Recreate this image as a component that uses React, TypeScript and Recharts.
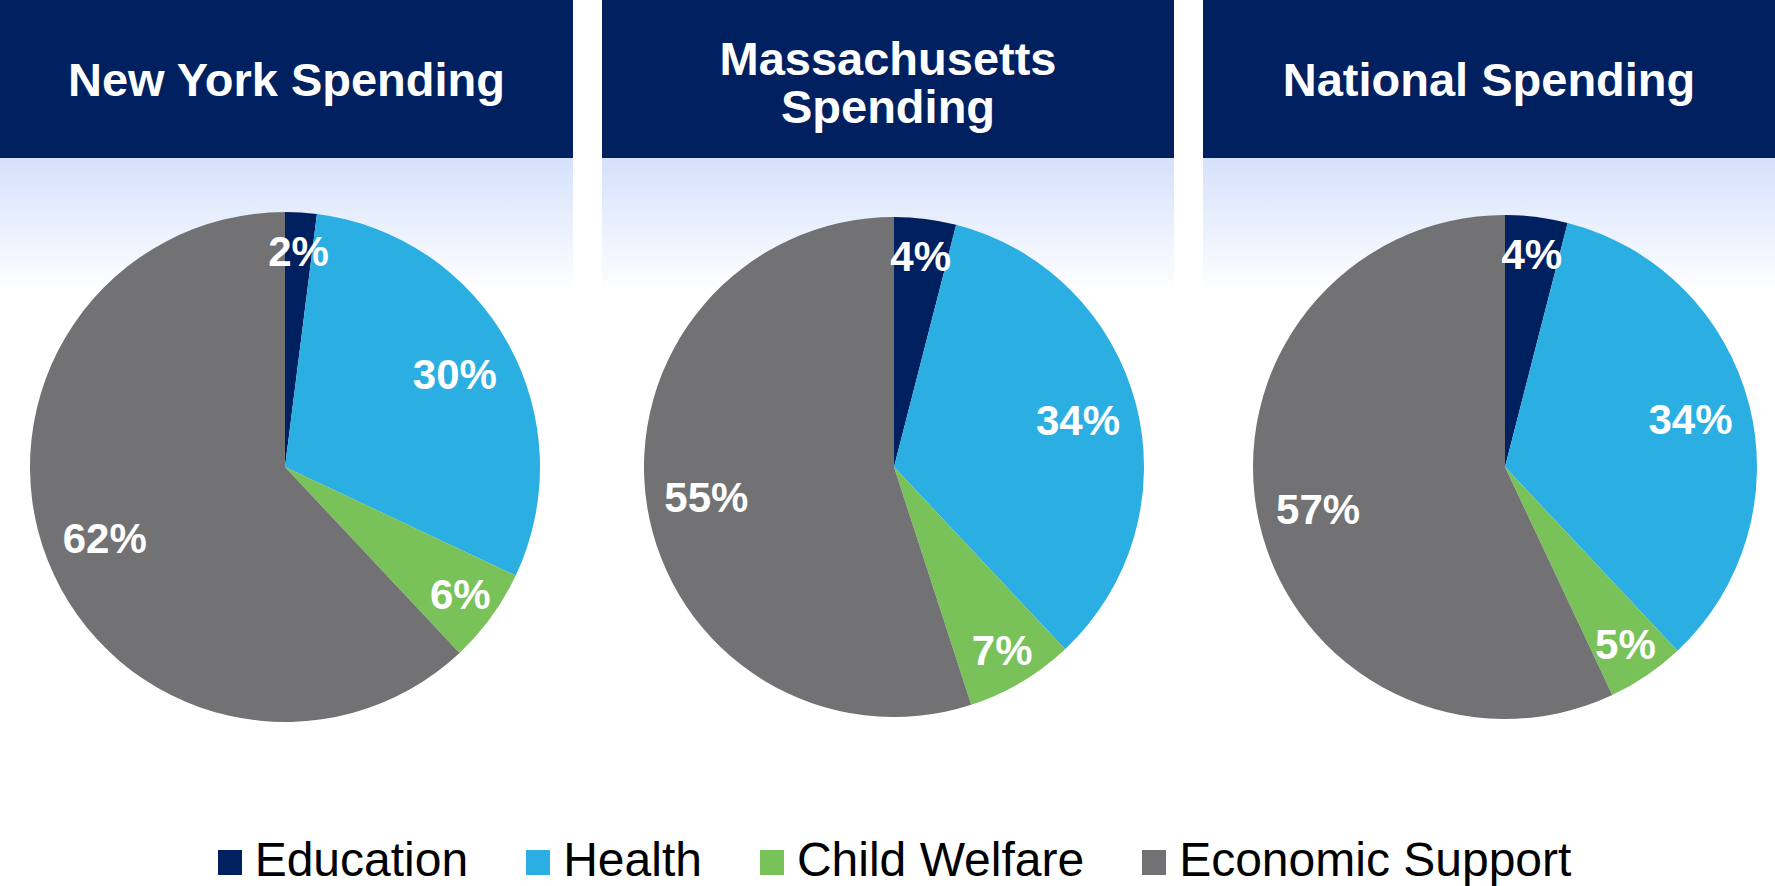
import { PieChart, Pie, Cell, Legend } from "recharts";

const categories = ["Education", "Health", "Child Welfare", "Economic Support"];
const colors = ["#00205f", "#2bafe2", "#79c25a", "#727274"];

const newYorkValues = [2, 30, 6, 62];
const massachusettsValues = [4, 34, 7, 55];
const nationalValues = [4, 34, 5, 57];

const titles = [["New York Spending"], ["Massachusetts", "Spending"], ["National Spending"]];

const WIDTH = 1775;
const HEIGHT = 886;
const NAVY = "#00205f";
const FONT = "'Liberation Sans', Arial, sans-serif";

const toData = (values: number[]) =>
  values.map((v, i) => ({ name: categories[i], value: v }));

const charts = [
  { data: toData(newYorkValues), cx: 285, cy: 467, r: 255 },
  { data: toData(massachusettsValues), cx: 894, cy: 467, r: 250 },
  { data: toData(nationalValues), cx: 1505, cy: 467, r: 252 },
];

const panels = [
  { left: 0, width: 573 },
  { left: 602, width: 572 },
  { left: 1203, width: 572 },
];

const RAD = Math.PI / 180;

const renderLabel = (props: any) => {
  const { cx, cy, midAngle, outerRadius, value } = props;
  const k = value < 10 ? 0.85 : 0.76;
  const r = outerRadius * k;
  const x = cx + r * Math.cos(-midAngle * RAD);
  const y = cy + r * Math.sin(-midAngle * RAD);
  return (
    <text
      x={x}
      y={y + 15}
      fill="#ffffff"
      textAnchor="middle"
      fontFamily={FONT}
      fontWeight="bold"
      fontSize={42}
    >
      {value}%
    </text>
  );
};

const renderLegend = () => (
  <div
    style={{
      display: "flex",
      justifyContent: "center",
      alignItems: "flex-end",
      fontFamily: FONT,
      fontSize: 48,
      color: "#000",
      lineHeight: "48px",
      paddingLeft: 14,
    }}
  >
    {categories.map((c, i) => (
      <div
        key={c}
        style={{
          display: "flex",
          alignItems: "flex-end",
          marginRight: i < categories.length - 1 ? 58 : 0,
        }}
      >
        <span
          style={{
            display: "inline-block",
            width: 24,
            height: 25,
            background: colors[i],
            marginRight: 13,
            marginBottom: 9,
          }}
        />
        <span>{c}</span>
      </div>
    ))}
  </div>
);

export default function App() {
  return (
    <div
      style={{
        position: "absolute",
        left: 0,
        top: 0,
        width: WIDTH,
        height: HEIGHT,
        background: "#ffffff",
        overflow: "hidden",
      }}
    >
      {panels.map((p, i) => (
        <div key={i}>
          <div
            style={{
              position: "absolute",
              left: p.left,
              top: 0,
              width: p.width,
              height: 158,
              background: NAVY,
            }}
          >
            <svg width={p.width} height={158}>
              {titles[i].map((line, j) => (
                <text
                  key={j}
                  x={p.width / 2}
                  y={titles[i].length > 1 ? 75 + j * 48 : 96}
                  textAnchor="middle"
                  fill="#ffffff"
                  fontFamily={FONT}
                  fontWeight="bold"
                  fontSize={47}
                >
                  {line}
                </text>
              ))}
            </svg>
          </div>
          <div
            style={{
              position: "absolute",
              left: p.left,
              top: 158,
              width: p.width,
              height: 135,
              background: "linear-gradient(#d5e1fb, #ffffff)",
            }}
          />
        </div>
      ))}
      <div style={{ position: "absolute", left: 0, top: 0 }}>
        <PieChart
          width={WIDTH}
          height={HEIGHT}
          margin={{ top: 0, right: 0, bottom: 0, left: 0 }}
        >
          {charts.map((c, i) => (
            <Pie
              key={i}
              data={c.data}
              dataKey="value"
              nameKey="name"
              cx={c.cx}
              cy={c.cy}
              outerRadius={c.r}
              startAngle={90}
              endAngle={-270}
              stroke="none"
              labelLine={false}
              label={renderLabel}
              isAnimationActive={false}
            >
              {c.data.map((d, j) => (
                <Cell key={d.name} fill={colors[j]} />
              ))}
            </Pie>
          ))}
          <Legend
            content={renderLegend}
            wrapperStyle={{ position: "absolute", left: 0, top: 836, width: WIDTH }}
          />
        </PieChart>
      </div>
    </div>
  );
}
